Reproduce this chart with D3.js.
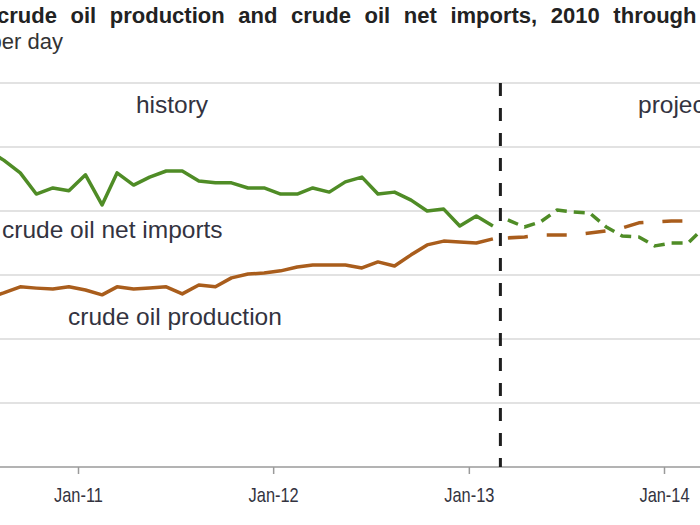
<!DOCTYPE html>
<html>
<head>
<meta charset="utf-8">
<script src="https://cdn.jsdelivr.net/npm/d3@7"></script>
<style>
	body{margin:0;background:#fff;}
	svg{display:block;font-family:"Liberation Sans",Arial,sans-serif;}
</style>
</head>
<body>
<svg id="chart" width="700" height="525"></svg>
<script>
// million barrels per day, monthly (mid-month points)
let histMonths = ['2010-07','2010-08','2010-09','2010-10','2010-11','2010-12',
	'2011-01','2011-02','2011-03','2011-04','2011-05','2011-06','2011-07','2011-08','2011-09','2011-10','2011-11','2011-12',
	'2012-01','2012-02','2012-03','2012-04','2012-05','2012-06','2012-07','2012-08','2012-09','2012-10','2012-11','2012-12',
	'2013-01','2013-02']
let histImports = [9.91,9.59,9.19,8.53,8.72,8.63,
	9.13,8.19,9.19,8.81,9.06,9.25,9.25,8.94,8.88,8.88,8.72,8.72,
	8.53,8.53,8.72,8.59,8.91,9.06,8.53,8.59,8.34,8.00,8.06,7.53,
	7.84,7.53]
let histProduction = [5.28,5.44,5.63,5.59,5.56,5.63,
	5.53,5.38,5.63,5.56,5.59,5.63,5.41,5.69,5.63,5.91,6.03,6.06,
	6.13,6.25,6.31,6.31,6.31,6.22,6.41,6.28,6.63,6.94,7.06,7.03,
	7.00,7.13]

let projMonths = ['2013-03','2013-04','2013-05','2013-06','2013-07','2013-08','2013-09','2013-10','2013-11','2013-12',
	'2014-01','2014-02','2014-03']
let projImports = [7.72,7.50,7.66,8.03,7.97,7.94,7.50,7.22,7.19,6.91,7.00,7.00,7.45]
let projProduction = [7.16,7.19,7.25,7.25,7.25,7.31,7.38,7.47,7.63,7.66,7.69,7.69,7.81]

let yTicks = [0,2,4,6,8,10,12]
let xTickYears = [2010,2011,2012,2013,2014,2015]
let dividerDate = '2013-03-01'

let green = '#4f8c26'
let brown = '#a95d1c'
let textColour = '#333340'

let parseDay = d3.timeParse('%Y-%m-%d')
function monthPoint(m){ return parseDay(m+'-15') }

let svg = d3.select('#chart')

let x = d3.scaleTime()
	.domain([new Date(2011,0,1), new Date(2014,0,1)])
	.range([78,664])

let y = d3.scaleLinear()
	.domain([0,12])
	.range([467,83])

// gridlines
svg.append('g').selectAll('line')
	.data(yTicks.filter(function(d){return d>0}))
	.enter().append('line')
	.attr('x1',0).attr('x2',700)
	.attr('y1',function(d){return y(d)}).attr('y2',function(d){return y(d)})
	.attr('stroke','#d9d9d9')
	.attr('stroke-width',1.5)

// x axis
let xAxis = d3.axisBottom(x)
	.tickValues(xTickYears.map(function(yr){return new Date(yr,0,1)}))
	.tickFormat(d3.timeFormat('Jan-%y'))
	.tickSize(7)
	.tickSizeOuter(0)

let axisG = svg.append('g')
	.attr('transform','translate(0,'+y(0)+')')
	.call(xAxis)
axisG.select('.domain').remove()
axisG.append('line')
	.attr('x1',0).attr('x2',700)
	.attr('stroke','#9a9a9a').attr('stroke-width',1.5)
axisG.selectAll('.tick line').attr('stroke','#9a9a9a').attr('stroke-width',1.5)
axisG.selectAll('.tick text')
	.attr('fill',textColour)
	.attr('font-size','20.5px')
	.attr('y',0)
	.attr('dy',0)
	.attr('transform','translate(0,35) scale(0.8,1)')

// divider
svg.append('line')
	.attr('x1',x(parseDay(dividerDate))).attr('x2',x(parseDay(dividerDate)))
	.attr('y1',y(12)).attr('y2',y(0))
	.attr('stroke','#1e1e1e')
	.attr('stroke-width',3)
	.attr('stroke-dasharray','13,12')

let line = d3.line()
	.x(function(d){return x(d.date)})
	.y(function(d){return y(d.value)})

function series(months,values){
	return months.map(function(m,i){return {'date':monthPoint(m),'value':values[i]}})
}

function drawLine(data,colour,dash){
	let p = svg.append('path')
		.datum(data)
		.attr('d',line)
		.attr('fill','none')
		.attr('stroke',colour)
		.attr('stroke-width',3.5)
		.attr('stroke-linejoin','round')
	if(dash){ p.attr('stroke-dasharray',dash) }
}

drawLine(series(histMonths,histImports),green)
drawLine(series(histMonths,histProduction),brown)
drawLine(series(projMonths,projImports),green,'11,7')
drawLine(series(projMonths,projProduction),brown,'20,19')

// titles
svg.append('text')
	.attr('x',-8).attr('y',23)
	.attr('text-anchor','end')
	.attr('font-weight','bold').attr('font-size','22px').attr('fill','#222')
	.text('U.S.')
svg.append('text')
	.attr('x',-3).attr('y',23)
	.attr('font-weight','bold').attr('font-size','22px').attr('fill','#222')
	.attr('word-spacing','7.5px')
	.text('crude oil production and crude oil net imports, 2010 through 2014')
svg.append('text')
	.attr('x',63).attr('y',49)
	.attr('text-anchor','end')
	.attr('font-size','22px').attr('fill','#333')
	.text('million barrels per day')

// labels
function label(txt,lx,ly,anchor){
	svg.append('text')
		.attr('x',lx).attr('y',ly)
		.attr('text-anchor',anchor||'start')
		.attr('font-size','24.5px').attr('fill',textColour)
		.text(txt)
}
label('history',172,113,'middle')
label('projections',638,113)
label('crude oil net imports',2,238)
label('crude oil production',68,325)
</script>
</body>
</html>
